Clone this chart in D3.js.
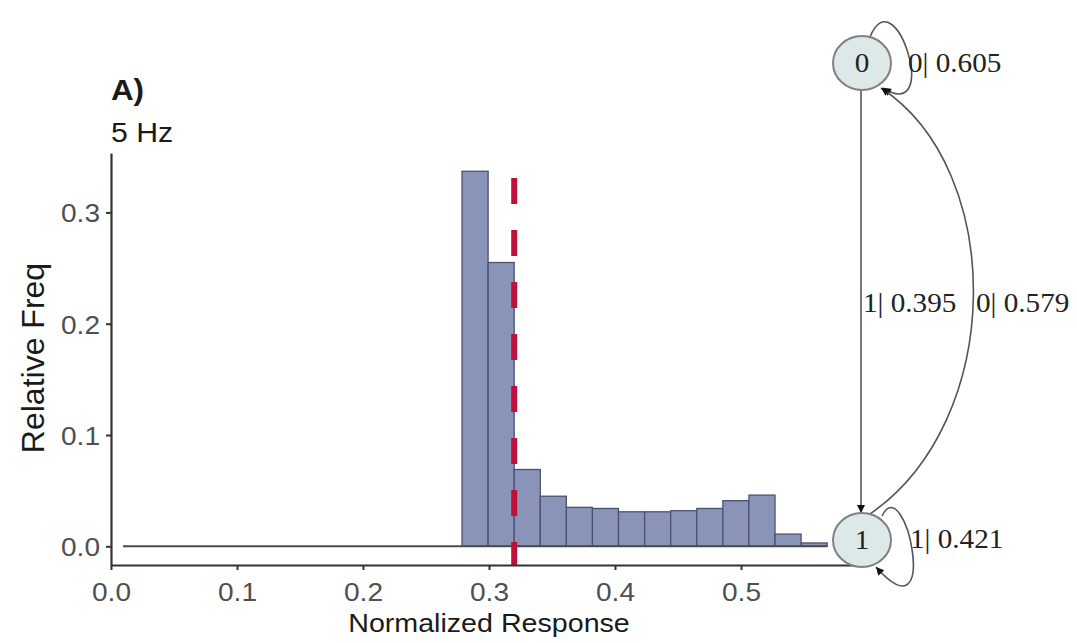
<!DOCTYPE html>
<html>
<head>
<meta charset="utf-8">
<script src="https://cdn.jsdelivr.net/npm/d3@7"></script>
<style>
  html, body { margin: 0; padding: 0; background: #ffffff; }
  svg { display: block; }
</style>
</head>
<body>
<script>
// Histogram of normalized responses (relative frequency per bin)
const binStart = 0.0095;
const binWidth = 0.0207;
const relFreq = [
  0, 0, 0, 0, 0, 0, 0, 0, 0, 0, 0, 0, 0,
  0.337, 0.255, 0.069, 0.045, 0.035, 0.034, 0.031, 0.031, 0.032, 0.034, 0.041, 0.046, 0.011, 0.003
];
const threshold = 0.32;

const xTicks = [0.0, 0.1, 0.2, 0.3, 0.4, 0.5];
const yTicks = [0.0, 0.1, 0.2, 0.3];

const panelLabel = "A)";
const subtitle = "5 Hz";
const xTitle = "Normalized Response";
const yTitle = "Relative Freq";

// Two-state transition diagram
const states = ["0", "1"];
const transitions = [
  { from: "0", to: "0", label: "0| 0.605" },
  { from: "0", to: "1", label: "1| 0.395" },
  { from: "1", to: "0", label: "0| 0.579" },
  { from: "1", to: "1", label: "1| 0.421" }
];

const W = 1077, H = 643;
const svg = d3.select("body").append("svg").attr("width", W).attr("height", H);

const x = d3.scaleLinear().domain([0, 0.6]).range([111, 867]);
const y = d3.scaleLinear().domain([-0.0168, 0.3534]).range([565, 153]);

const SX = 1.08; // horizontal widening of lettering

const bins = relFreq.map((v, i) => ({ x0: binStart + i * binWidth, x1: binStart + (i + 1) * binWidth, v }));

// bars
svg.append("g").selectAll("rect").data(bins).join("rect")
  .attr("x", d => x(d.x0))
  .attr("y", d => y(d.v))
  .attr("width", d => x(d.x1) - x(d.x0))
  .attr("height", d => Math.max(0, y(0) - y(d.v)))
  .attr("fill", "#8a94b8")
  .attr("stroke", "#4a5272")
  .attr("stroke-width", 1.3);

// zero-height bins show as a flat outline
svg.append("line")
  .attr("x1", x(bins[0].x0)).attr("x2", x(bins[bins.length - 1].x1))
  .attr("y1", y(0)).attr("y2", y(0))
  .attr("stroke", "#4a4a4a").attr("stroke-width", 2);

// threshold marker
svg.append("line")
  .attr("x1", x(threshold)).attr("x2", x(threshold))
  .attr("y1", y.range()[1]).attr("y2", y.range()[0])
  .attr("stroke", "#c0103a").attr("stroke-width", 6)
  .attr("stroke-dasharray", "26 26").attr("stroke-dashoffset", 27);

// axes
const xAxis = svg.append("g").attr("transform", `translate(0,${y.range()[0]})`)
  .call(d3.axisBottom(x).tickValues(xTicks).tickFormat(d3.format(".1f")).tickSize(5).tickSizeOuter(0));
const yAxis = svg.append("g").attr("transform", `translate(${x.range()[0]},0)`)
  .call(d3.axisLeft(y).tickValues(yTicks).tickFormat(d3.format(".1f")).tickSize(5).tickSizeOuter(0));

[xAxis, yAxis].forEach(g => {
  g.select(".domain").attr("stroke", "#333").attr("stroke-width", 2.2);
  g.selectAll(".tick line").attr("stroke", "#333").attr("stroke-width", 2);
  g.selectAll(".tick text")
    .attr("fill", "#505050")
    .attr("font-family", "'Liberation Sans', Arial, sans-serif")
    .attr("font-size", 26);
});
xAxis.selectAll(".tick text").attr("y", 0).attr("dy", 0)
  .attr("transform", `translate(0,36) scale(${SX},1)`);
yAxis.selectAll(".tick text").attr("x", 0).attr("dy", "0.36em")
  .attr("transform", `translate(-11,0) scale(${SX},1)`);

function stretchedText(tx, ty, txt, size, opts = {}) {
  return svg.append("text")
    .attr("transform", `translate(${tx},${ty}) scale(${SX},1)`)
    .attr("font-family", opts.family || "'Liberation Sans', Arial, sans-serif")
    .attr("font-size", size)
    .attr("font-weight", opts.weight || "normal")
    .attr("text-anchor", opts.anchor || "start")
    .attr("fill", opts.fill || "#1a1a1a")
    .text(txt);
}

stretchedText(111, 100, panelLabel, 29, { weight: "bold" });
stretchedText(111, 142, subtitle, 28);
stretchedText(489, 632, xTitle, 26.5, { anchor: "middle" });

svg.append("text")
  .attr("transform", `translate(44,358) rotate(-90)`)
  .attr("font-family", "'Liberation Sans', Arial, sans-serif")
  .attr("font-size", 32)
  .attr("text-anchor", "middle")
  .attr("fill", "#1a1a1a")
  .text(yTitle);

// state diagram
const nodePos = { "0": [862, 63], "1": [862, 540] };
const rx = 29, ry = 27;

const defs = svg.append("defs");
defs.append("marker").attr("id", "arrow")
  .attr("viewBox", "0 0 10 10").attr("refX", 10).attr("refY", 5)
  .attr("markerWidth", 11).attr("markerHeight", 8)
  .attr("markerUnits", "userSpaceOnUse")
  .attr("orient", "auto")
  .append("path").attr("d", "M0,0 L10,5 L0,10 Z").attr("fill", "#111");

const p0 = nodePos["0"], p1 = nodePos["1"];
const edgePaths = {
  "0-0": `M${p0[0] + 8},${p0[1] - 26} C${p0[0] + 33},${p0[1] - 88} ${p0[0] + 80},${p0[1] + 62} ${p0[0] + 21},${p0[1] + 25}`,
  "0-1": `M${p0[0] - 1},${p0[1] + ry} L${p1[0] - 1},${p1[1] - ry}`,
  "1-0": `M${p1[0] + 8},${p1[1] - 26} C${p1[0] + 144},${p1[1] - 120} ${p0[0] + 144},${p0[1] + 107} ${p0[0] + 19},${p0[1] + 25}`,
  "1-1": `M${p1[0] + 20},${p1[1] - 24} C${p1[0] + 43},${p1[1] - 72} ${p1[0] + 80},${p1[1] + 102} ${p1[0] + 14},${p1[1] + 27}`
};
const labelPos = {
  "0-0": [908, 72],
  "0-1": [863, 312],
  "1-0": [976, 312],
  "1-1": [910, 548]
};

svg.append("g").selectAll("path").data(transitions).join("path")
  .attr("d", d => edgePaths[`${d.from}-${d.to}`])
  .attr("fill", "none")
  .attr("stroke", "#555")
  .attr("stroke-width", 1.6)
  .attr("marker-end", "url(#arrow)");

const nodes = svg.append("g").selectAll("g").data(states).join("g")
  .attr("transform", d => `translate(${nodePos[d][0]},${nodePos[d][1]})`);
nodes.append("ellipse").attr("rx", rx).attr("ry", ry)
  .attr("fill", "#dde9e8").attr("stroke", "#808080").attr("stroke-width", 2);
nodes.append("text")
  .attr("transform", `translate(0,9) scale(${SX},1)`)
  .attr("text-anchor", "middle")
  .attr("font-family", "'Liberation Serif', 'Times New Roman', serif")
  .attr("font-size", 27)
  .attr("fill", "#222")
  .text(d => d);

transitions.forEach(t => {
  const [lx, ly] = labelPos[`${t.from}-${t.to}`];
  stretchedText(lx, ly, t.label, 27, { family: "'Liberation Serif', 'Times New Roman', serif", fill: "#222" });
});
</script>
</body>
</html>
